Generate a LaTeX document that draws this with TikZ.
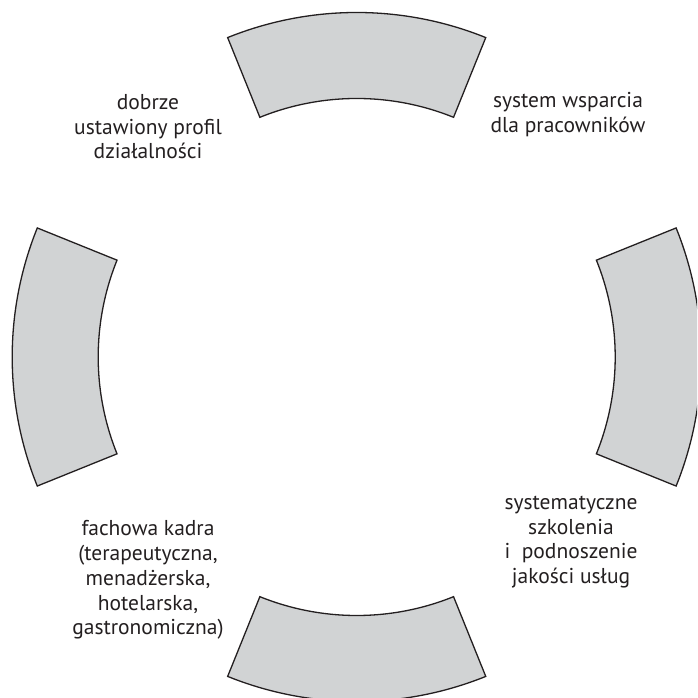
\documentclass[tikz,border=0pt]{standalone}
\usepackage{fontspec}
\setmainfont{PT Sans}
\usepackage{xcolor}
\usepackage{tikz}
\usetikzlibrary{calc}
\definecolor{segfill}{RGB}{209,211,212}
\definecolor{segline}{RGB}{35,31,32}
\newcommand{\lblfont}{\fontsize{21.5}{24.8}\selectfont}

\begin{document}
\begin{tikzpicture}[
   x=1pt, y=1pt,
   seg/.style={fill=segfill, draw=segline, line width=1.3pt, line join=miter},
   lbl/.style={align=center, font=\lblfont, text=segline, inner sep=0pt}]

  \useasboundingbox (0,0) rectangle (697,698);
  \clip (0,0) rectangle (697,698);

  \coordinate (c) at (356.7,341);

  % four ring segments
  \foreach \a in {0,90,180,270}
    \draw[seg] ($(c)+(\a-22:344.5pt)$) arc[start angle=\a-22, end angle=\a+22, radius=344.5pt]
      -- ($(c)+(\a+22:258.5pt)$) arc[start angle=\a+22, end angle=\a-22, radius=258.5pt]
      -- cycle;

  \node[lbl] (profil) at (148,571.3) {dobrze\\ustawiony profil\\działalności};
  \node[lbl] (wsparcie) at (568,583.8) {system wsparcia\\dla pracowników};
  \node[lbl] (szkolenia) at (571,156) {systematyczne\\szkolenia\\i~ podnoszenie\\jakości usług};
  \node[lbl] (kadra) at (148,118) {fachowa kadra\\(terapeutyczna,\\menadżerska,\\hotelarska,\\gastronomiczna)};
\end{tikzpicture}
\end{document}
